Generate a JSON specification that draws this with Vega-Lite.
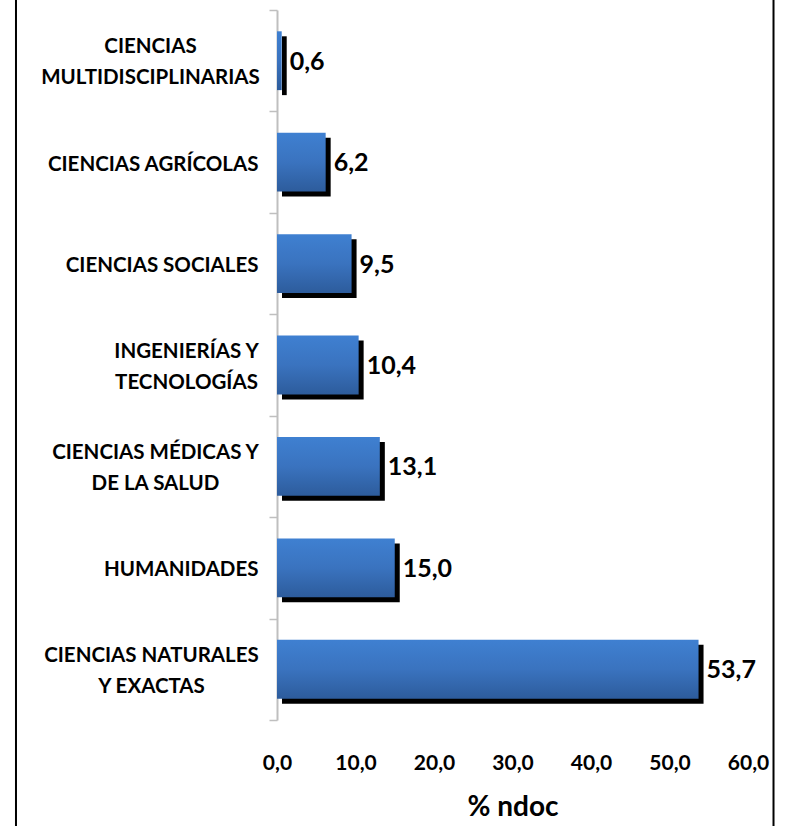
{
  "$schema": "https://vega.github.io/schema/vega-lite/v6.json",
  "autosize": {"type": "none"},
  "padding": {"left": 277, "top": 10, "right": 37, "bottom": 106},
  "width": 471,
  "height": 710,
  "background": "white",
  "config": {
    "view": {"stroke": null},
    "locale": {"number": {"decimal": ",", "thousands": ".", "grouping": [3], "currency": ["", " €"]}}
  },
  "resolve": {"scale": {"y": "independent"}, "axis": {"y": "independent"}},
  "layer": [
    {
      "data": {"values": [
        {"area": "CIENCIAS MULTIDISCIPLINARIAS", "pct": 0.6},
        {"area": "CIENCIAS AGRÍCOLAS", "pct": 6.2},
        {"area": "CIENCIAS SOCIALES", "pct": 9.5},
        {"area": "INGENIERÍAS Y TECNOLOGÍAS", "pct": 10.4},
        {"area": "CIENCIAS MÉDICAS Y DE LA SALUD", "pct": 13.1},
        {"area": "HUMANIDADES", "pct": 15.0},
        {"area": "CIENCIAS NATURALES Y EXACTAS", "pct": 53.7}
      ]},
      "encoding": {
        "y": {
          "field": "area", "type": "nominal", "sort": null,
          "scale": {"paddingInner": 0, "paddingOuter": 0},
          "axis": {
            "title": null,
            "domainColor": "#BFBFBF", "domainWidth": 2,
            "tickColor": "#BFBFBF", "tickWidth": 1.5, "tickSize": 8, "tickBand": "extent",
            "labelFont": "Lato", "labelFontWeight": "bold", "labelFontSize": 20.5, "labelColor": "black",
            "labelLineHeight": 31, "labelLimit": 0,
            "labelAlign": {"condition": {"test": "indexof(['CIENCIAS MULTIDISCIPLINARIAS','INGENIERÍAS Y TECNOLOGÍAS','CIENCIAS MÉDICAS Y DE LA SALUD','CIENCIAS NATURALES Y EXACTAS'], datum.value) >= 0", "value": "center"}, "value": "right"},
            "labelOffset": {"condition": {"test": "indexof(['CIENCIAS MULTIDISCIPLINARIAS','INGENIERÍAS Y TECNOLOGÍAS','CIENCIAS MÉDICAS Y DE LA SALUD','CIENCIAS NATURALES Y EXACTAS'], datum.value) >= 0", "value": -14}, "value": 2},
            "labelPadding": {"condition": [
              {"test": "datum.value == 'CIENCIAS MULTIDISCIPLINARIAS'", "value": 119},
              {"test": "datum.value == 'INGENIERÍAS Y TECNOLOGÍAS'", "value": 83},
              {"test": "datum.value == 'CIENCIAS MÉDICAS Y DE LA SALUD'", "value": 114},
              {"test": "datum.value == 'CIENCIAS NATURALES Y EXACTAS'", "value": 118}
            ], "value": 11},
            "labelExpr": "datum.value == 'CIENCIAS MULTIDISCIPLINARIAS' ? ['CIENCIAS','MULTIDISCIPLINARIAS'] : datum.value == 'INGENIERÍAS Y TECNOLOGÍAS' ? ['INGENIERÍAS Y','TECNOLOGÍAS'] : datum.value == 'CIENCIAS MÉDICAS Y DE LA SALUD' ? ['CIENCIAS MÉDICAS Y','DE LA SALUD'] : datum.value == 'CIENCIAS NATURALES Y EXACTAS' ? ['CIENCIAS NATURALES','Y EXACTAS'] : datum.label"
          }
        },
        "x": {
          "field": "pct", "type": "quantitative",
          "scale": {"domain": [0, 60], "nice": false},
          "axis": {
            "title": "% ndoc",
            "values": [0, 10, 20, 30, 40, 50, 60],
            "format": ".1f",
            "domain": false, "ticks": false, "tickSize": 0, "grid": false,
            "labelFont": "Lato", "labelFontWeight": "bold", "labelFontSize": 21, "labelColor": "black",
            "labelPadding": 32, "labelFlush": false,
            "titleFont": "Lato", "titleFontWeight": "bold", "titleFontSize": 28, "titleColor": "black",
            "titlePadding": 20
          }
        }
      },
      "layer": [
        {"mark": {"type": "bar", "color": "black", "xOffset": 5, "yOffset": 5, "height": {"band": 0.58}}},
        {"mark": {"type": "bar", "height": {"band": 0.58}, "fill": {"gradient": "linear", "x1": 0, "y1": 0, "x2": 0, "y2": 1,
          "stops": [{"offset": 0, "color": "#3F80D1"}, {"offset": 0.5, "color": "#3A73BF"}, {"offset": 1, "color": "#2D5C9C"}]}}},
        {"mark": {"type": "text", "align": "left", "baseline": "middle", "dx": 8, "dy": 1, "font": "Lato", "fontWeight": "bold", "fontSize": 25, "color": "black"},
         "encoding": {"text": {"field": "pct", "type": "quantitative", "format": ".1f"}}}
      ]
    },
    {
      "data": {"values": [{}]},
      "mark": {"type": "rule", "color": "black", "strokeWidth": 2, "clip": false},
      "encoding": {
        "x": {"datum": -33.25, "type": "quantitative", "scale": {"domain": [0, 60], "nice": false}},
        "y": {"datum": -0.2, "type": "quantitative", "scale": {"domain": [0, 1], "nice": false, "zero": false}, "axis": null},
        "y2": {"datum": 1.05}
      }
    },
    {
      "data": {"values": [{}]},
      "mark": {"type": "rule", "color": "black", "strokeWidth": 2, "clip": false},
      "encoding": {
        "x": {"datum": 63.25, "type": "quantitative", "scale": {"domain": [0, 60], "nice": false}},
        "y": {"datum": -0.2, "type": "quantitative", "scale": {"domain": [0, 1], "nice": false, "zero": false}, "axis": null},
        "y2": {"datum": 1.05}
      }
    }
  ]
}
